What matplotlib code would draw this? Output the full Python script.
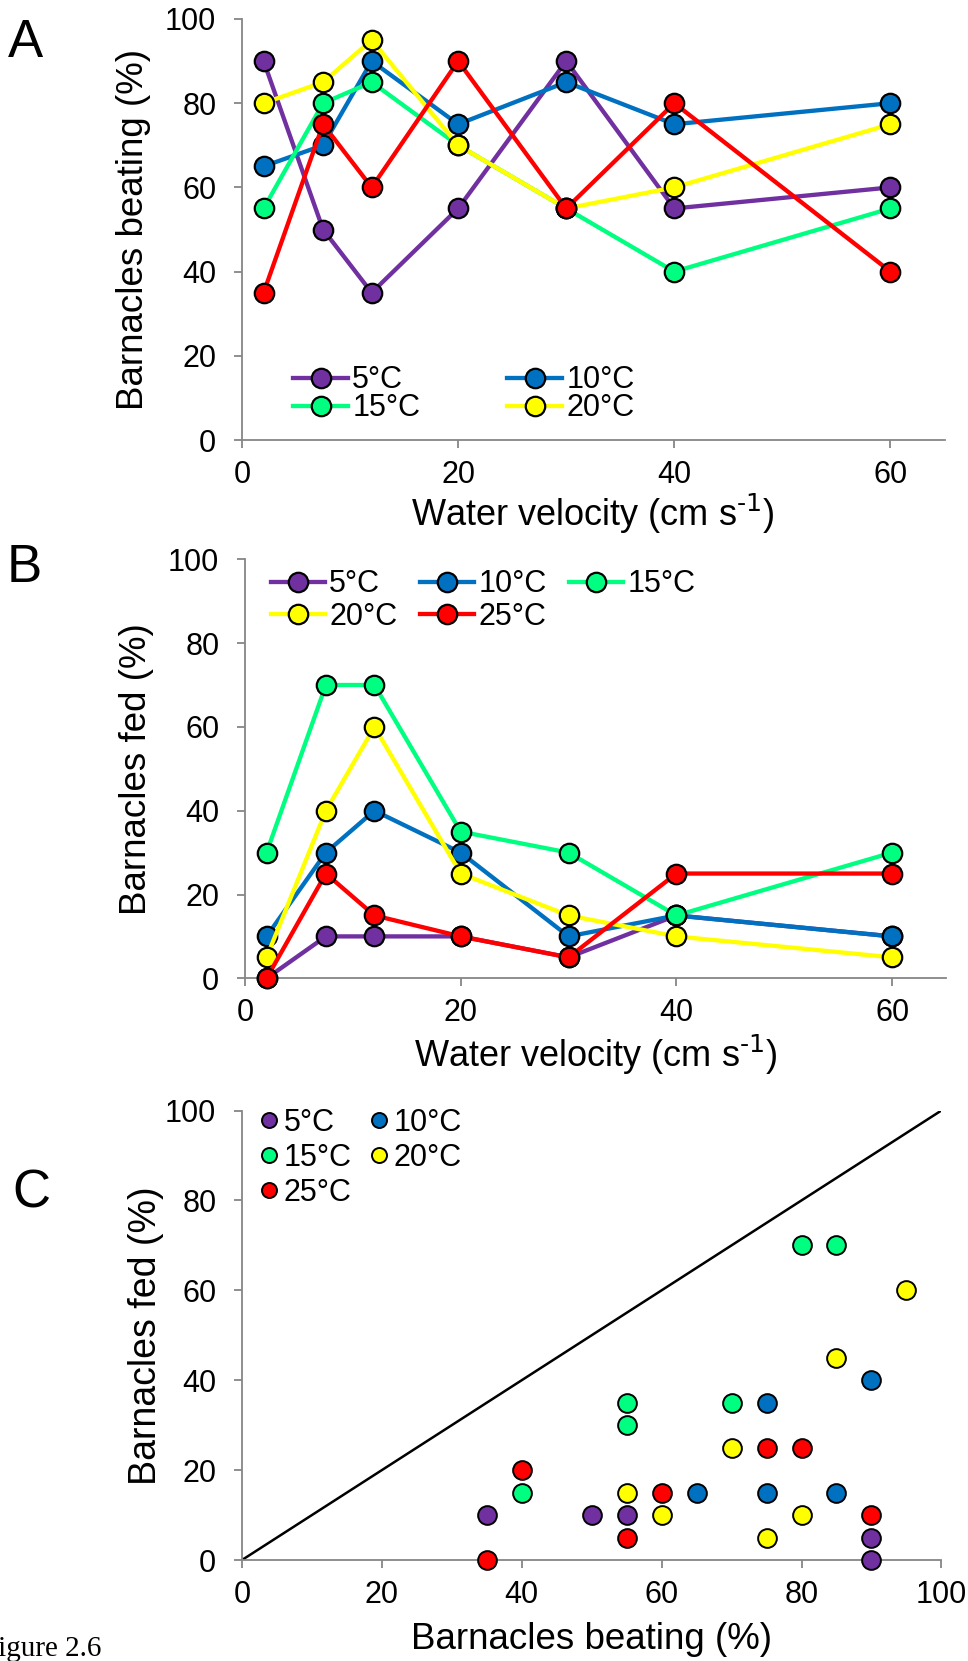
import matplotlib
matplotlib.use('Agg')
import matplotlib.pyplot as plt

plt.rcParams['font.family'] = ['Liberation Sans', 'DejaVu Sans']
plt.rcParams['mathtext.default'] = 'regular'

# ---- data ----
velocity = [2, 7.5, 12, 20, 30, 40, 60]
temp_labels = ['5°C', '10°C', '15°C', '20°C', '25°C']
temp_colors = ['#7030A0', '#0070C0', '#00FF80', '#FFFF00', '#FF0000']

# panel A: barnacles beating (%)
beat_5 = [90, 50, 35, 55, 90, 55, 60]
beat_10 = [65, 70, 90, 75, 85, 75, 80]
beat_15 = [55, 80, 85, 70, 55, 40, 55]
beat_20 = [80, 85, 95, 70, 55, 60, 75]
beat_25 = [35, 75, 60, 90, 55, 80, 40]

# panel B: barnacles fed (%)
fed_5 = [0, 10, 10, 10, 5, 15, 10]
fed_10 = [10, 30, 40, 30, 10, 15, 10]
fed_15 = [30, 70, 70, 35, 30, 15, 30]
fed_20 = [5, 40, 60, 25, 15, 10, 5]
fed_25 = [0, 25, 15, 10, 5, 25, 25]

# panel C: fed vs beating (points as plotted)
sc_beat_5 = [35, 50, 55, 90, 90]
sc_fed_5 = [10, 10, 10, 5, 0]
sc_beat_10 = [65, 75, 75, 85, 90]
sc_fed_10 = [15, 35, 15, 15, 40]
sc_beat_15 = [40, 55, 55, 70, 80, 85]
sc_fed_15 = [15, 35, 30, 35, 70, 70]
sc_beat_20 = [55, 60, 70, 75, 80, 85, 95]
sc_fed_20 = [15, 10, 25, 5, 10, 45, 60]
sc_beat_25 = [35, 40, 55, 60, 75, 80, 90]
sc_fed_25 = [0, 20, 5, 15, 25, 25, 10]
one_to_one = [0, 100]

W, H = 968, 1661
fig = plt.figure(figsize=(W / 100, H / 100), dpi=100)


def px_axes(left, top, right, bottom):
    return fig.add_axes([left / W, 1 - bottom / H, (right - left) / W, (bottom - top) / H])


def style(ax):
    for s in ['top', 'right']:
        ax.spines[s].set_visible(False)
    for s in ['left', 'bottom']:
        ax.spines[s].set_color('#868686')
        ax.spines[s].set_linewidth(1.3)
    ax.tick_params(direction='out', length=5.5, width=1.3, color='#868686',
                   labelsize=22, labelcolor='black')
    ax.tick_params(axis='y', pad=13)
    ax.tick_params(axis='x', pad=9)


line_kw = dict(lw=3.1, ms=14, mec='black', mew=1.6, zorder=3, clip_on=False)
xlabel_txt = 'Water velocity (cm s$^{\\text{-1}}$)'

# ---- panel A ----
axA = px_axes(242, 19, 944.5, 440)
beat_series = [beat_5, beat_10, beat_15, beat_20, beat_25]
handlesA = []
for vals, lab, col in zip(beat_series, temp_labels, temp_colors):
    h, = axA.plot(velocity, vals, '-o', color=col, mfc=col, label=lab, **line_kw)
    handlesA.append(h)
axA.set_xlim(0, 65)
axA.set_ylim(0, 100)
axA.set_xticks([0, 20, 40, 60])
axA.set_yticks([0, 20, 40, 60, 80, 100])
style(axA)
axA.set_ylabel('Barnacles beating (%)', fontsize=26.5, va='center')
axA.yaxis.set_label_coords(-0.154, 0.5)
axA.set_xlabel(xlabel_txt, fontsize=26, va='baseline')
axA.xaxis.set_label_coords(0.5, -0.204)
orderA = [0, 2, 1, 3]
axA.legend([handlesA[i] for i in orderA], [temp_labels[i] for i in orderA],
           ncol=2, loc='upper left', bbox_to_anchor=(0.0726, 0.177),
           frameon=False, fontsize=22, borderpad=0, borderaxespad=0,
           handlelength=1.8, handletextpad=0.14, columnspacing=2.85,
           labelspacing=-0.07, numpoints=1)

# ---- panel B ----
axB = px_axes(245, 559.3, 946, 978.3)
fed_series = [fed_5, fed_10, fed_15, fed_20, fed_25]
handlesB = []
for vals, lab, col in zip(fed_series, temp_labels, temp_colors):
    h, = axB.plot(velocity, vals, '-o', color=col, mfc=col, label=lab, **line_kw)
    handlesB.append(h)
axB.set_xlim(0, 65)
axB.set_ylim(0, 100)
axB.set_xticks([0, 20, 40, 60])
axB.set_yticks([0, 20, 40, 60, 80, 100])
style(axB)
axB.set_ylabel('Barnacles fed (%)', fontsize=26.5, va='center')
axB.yaxis.set_label_coords(-0.155, 0.5)
axB.set_xlabel(xlabel_txt, fontsize=26, va='baseline')
axB.xaxis.set_label_coords(0.5, -0.211)
orderB = [0, 3, 1, 4, 2]
axB.legend([handlesB[i] for i in orderB], [temp_labels[i] for i in orderB],
           ncol=3, loc='upper left', bbox_to_anchor=(0.0371, 0.976),
           frameon=False, fontsize=22, borderpad=0, borderaxespad=0,
           handlelength=1.77, handletextpad=0.13, columnspacing=0.75,
           labelspacing=0.08, numpoints=1)

# ---- panel C ----
axC = px_axes(242, 1110.5, 941.4, 1560)
axC.plot(one_to_one, one_to_one, color='black', lw=1.8, zorder=2)
sc_beat = [sc_beat_5, sc_beat_10, sc_beat_15, sc_beat_20, sc_beat_25]
sc_fed = [sc_fed_5, sc_fed_10, sc_fed_15, sc_fed_20, sc_fed_25]
handlesC = []
for xs, ys, lab, col in zip(sc_beat, sc_fed, temp_labels, temp_colors):
    h, = axC.plot(xs, ys, 'o', ls='none', ms=13.5, mfc=col, mec='black', mew=1.4,
                  zorder=3, clip_on=False, label=lab)
    handlesC.append(h)
axC.set_xlim(0, 100)
axC.set_ylim(0, 100)
axC.set_xticks([0, 20, 40, 60, 80, 100])
axC.set_yticks([0, 20, 40, 60, 80, 100])
style(axC)
axC.set_ylabel('Barnacles fed (%)', fontsize=27, va='center')
axC.yaxis.set_label_coords(-0.137, 0.5)
axC.set_xlabel('Barnacles beating (%)', fontsize=26.5, va='baseline')
axC.xaxis.set_label_coords(0.5, -0.199)
orderC = [0, 2, 4, 1, 3]
axC.legend([handlesC[i] for i in orderC], [temp_labels[i] for i in orderC],
           ncol=2, loc='upper left', bbox_to_anchor=(0.0261, 1.006),
           frameon=False, fontsize=22, borderpad=0, borderaxespad=0,
           handlelength=0.57, handletextpad=0.2, columnspacing=0.6,
           labelspacing=0.17, numpoints=1, markerscale=0.8)

# ---- panel letters / caption ----
fig.text(8 / W, 1 - 57 / H, 'A', fontsize=38, va='baseline')
fig.text(7 / W, 1 - 582 / H, 'B', fontsize=38, va='baseline')
fig.text(12.5 / W, 1 - 1208 / H, 'C', fontsize=38, va='baseline')
fig.text(101.7 / W, 1 - 1656 / H, 'Figure 2.6', fontsize=21, ha='right', va='baseline',
         family=['Liberation Serif', 'DejaVu Serif'])

fig.savefig('out.png', dpi=100)
